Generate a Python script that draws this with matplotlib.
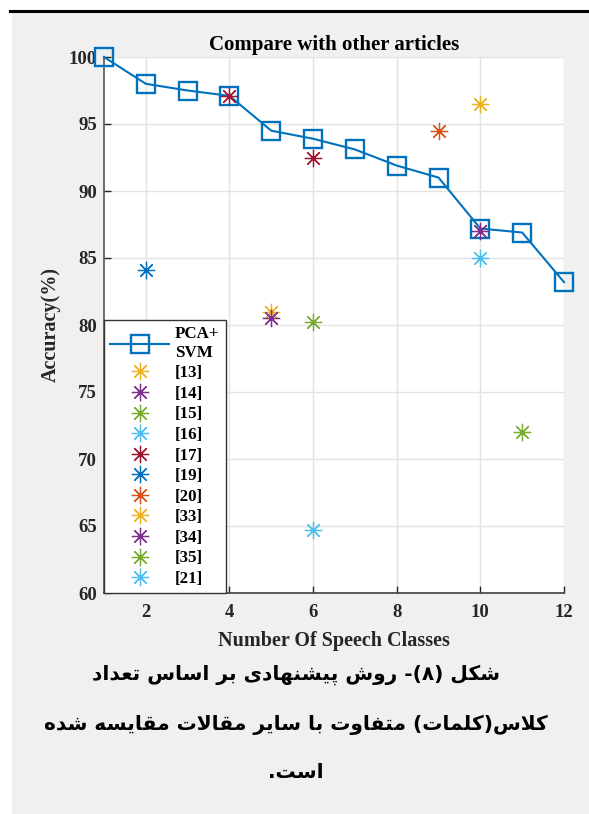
import matplotlib
matplotlib.use('Agg')
import matplotlib.pyplot as plt
from matplotlib.lines import Line2D
from matplotlib.patches import Rectangle

# ---------------- data ----------------
classes = list(range(1, 13))
pca_svm = [100, 98.0, 97.5, 97.1, 94.5, 93.9, 93.1, 91.9, 91.0, 87.2, 86.9, 83.2]

ref_labels = ['[13]', '[14]', '[15]', '[16]', '[17]', '[19]', '[20]',
              '[33]', '[34]', '[35]', '[21]']
ref_colors = ['#EDB120', '#7E2F8E', '#77AC30', '#4DBEEE', '#A2142F', '#0072BD',
              '#D95319', '#EDB120', '#7E2F8E', '#77AC30', '#4DBEEE']
ref_x = [[5], [5], [6], [6], [4, 6], [2], [9], [10], [10], [11], [10]]
ref_y = [[81.0], [80.5], [80.2], [64.7], [97.1, 92.5], [84.1], [94.5],
         [96.5], [87.0], [72.0], [85.0]]

x_ticks = [2, 4, 6, 8, 10, 12]
y_ticks = [60, 65, 70, 75, 80, 85, 90, 95, 100]

title = 'Compare with other articles'
xlabel = 'Number Of Speech Classes'
ylabel = 'Accuracy(%)'
caption_lines = ['شکل (۸)- روش پیشنهادی بر اساس تعداد',
                 'کلاس(کلمات) متفاوت با سایر مقالات مقایسه شده',
                 'است.']

# ------------- simple Arabic-script shaping + RTL ordering -------------
FORMS = {
    'ا': ('\uFE8D', '\uFE8E', None, None),
    'ب': ('\uFE8F', '\uFE90', '\uFE91', '\uFE92'),
    'ت': ('\uFE95', '\uFE96', '\uFE97', '\uFE98'),
    'د': ('\uFEA9', '\uFEAA', None, None),
    'ر': ('\uFEAD', '\uFEAE', None, None),
    'س': ('\uFEB1', '\uFEB2', '\uFEB3', '\uFEB4'),
    'ش': ('\uFEB5', '\uFEB6', '\uFEB7', '\uFEB8'),
    'ع': ('\uFEC9', '\uFECA', '\uFECB', '\uFECC'),
    'ف': ('\uFED1', '\uFED2', '\uFED3', '\uFED4'),
    'ق': ('\uFED5', '\uFED6', '\uFED7', '\uFED8'),
    'ل': ('\uFEDD', '\uFEDE', '\uFEDF', '\uFEE0'),
    'م': ('\uFEE1', '\uFEE2', '\uFEE3', '\uFEE4'),
    'ن': ('\uFEE5', '\uFEE6', '\uFEE7', '\uFEE8'),
    'ه': ('\uFEE9', '\uFEEA', '\uFEEB', '\uFEEC'),
    'و': ('\uFEED', '\uFEEE', None, None),
    'ی': ('\uFBFC', '\uFBFD', '\uFBFE', '\uFBFF'),
    'ک': ('\uFB8E', '\uFB8F', '\uFB90', '\uFB91'),
    'پ': ('\uFB56', '\uFB57', '\uFB58', '\uFB59'),
    'لا': ('\uFEFB', '\uFEFC', None, None),
}
MIRROR = {'(': ')', ')': '('}


def shape_run(run):
    toks = []
    i = 0
    while i < len(run):
        if run[i] == 'ل' and i + 1 < len(run) and run[i + 1] == 'ا':
            toks.append('لا')
            i += 2
        else:
            toks.append(run[i])
            i += 1
    out = []
    for k, t in enumerate(toks):
        f = FORMS[t]
        prev_j = k > 0 and FORMS[toks[k - 1]][2] is not None
        next_j = f[2] is not None and k + 1 < len(toks)
        if prev_j and next_j:
            g = f[3]
        elif prev_j:
            g = f[1]
        elif next_j:
            g = f[2]
        else:
            g = f[0]
        out.append(g)
    return ''.join(reversed(out))


def visual_rtl(s):
    tokens, run = [], []
    for ch in s:
        if ch in FORMS:
            run.append(ch)
        else:
            if run:
                tokens.append(shape_run(run))
                run = []
            tokens.append(MIRROR.get(ch, ch))
    if run:
        tokens.append(shape_run(run))
    return ''.join(reversed(tokens))


# ---------------- figure ----------------
W, H = 589, 814
fig = plt.figure(figsize=(W / 100, H / 100), dpi=100, facecolor='white')

fig.patches.append(Rectangle((12 / W, 0), 1 - 12 / W, (H - 12) / H,
                             transform=fig.transFigure, facecolor='#f0f0f0',
                             edgecolor='none', zorder=-10))
fig.lines.append(Line2D([10 / W, 1], [1 - 11 / H, 1 - 11 / H], transform=fig.transFigure,
                        color='black', lw=2.2, zorder=-9))

ax = fig.add_axes([104 / W, 1 - 593 / H, (564 - 104) / W, (593 - 57) / H])
ax.set_facecolor('white')

serif = 'Liberation Serif'
tick_col = '#262626'

ax.plot(classes, pca_svm, color='#0072BD', lw=1.5, marker='s', ms=13,
        mfc='none', mec='#0072BD', mew=1.7, label='PCA+\nSVM', clip_on=False, zorder=3)
for lab, col, xs, ys in zip(ref_labels, ref_colors, ref_x, ref_y):
    ax.plot(xs, ys, linestyle='none', marker=(8, 2, 0), ms=12.5, mew=0.9,
            color=col, mec=col, label=lab, clip_on=False, zorder=4)

ax.set_xlim(1, 12)
ax.set_ylim(60, 100)
ax.set_xticks(x_ticks)
ax.set_yticks(y_ticks)
ax.set_xticklabels([str(v) for v in x_ticks], fontfamily=serif, fontweight='bold',
                   fontsize=13.5, color=tick_col)
ax.set_yticklabels([str(v) for v in y_ticks], fontfamily=serif, fontweight='bold',
                   fontsize=13.5, color=tick_col)
ax.tick_params(axis='both', direction='in', length=5, width=1, color=tick_col)
ax.tick_params(axis='x', pad=8)
ax.tick_params(axis='y', pad=5)

ax.grid(True, color='#e3e3e3', lw=1)
ax.set_axisbelow(True)
for s in ['top', 'right']:
    ax.spines[s].set_visible(False)
ax.spines['left'].set_color('#555555')
ax.spines['bottom'].set_color('#404040')
ax.spines['left'].set_linewidth(1.2)
ax.spines['bottom'].set_linewidth(1.2)

ax.set_title(title, fontfamily=serif, fontweight='bold', fontsize=15, color='black', pad=5)
ax.set_xlabel(xlabel, fontfamily=serif, fontweight='bold', fontsize=14.5,
              color=tick_col, labelpad=7)
ax.set_ylabel(ylabel, fontfamily=serif, fontweight='bold', fontsize=14.5,
              color=tick_col, labelpad=6)

leg = ax.legend(loc='lower left', bbox_to_anchor=(0, 0), borderaxespad=0,
                prop={'family': serif, 'weight': 'bold', 'size': 12.2},
                handlelength=3.5, handletextpad=0.35, labelspacing=0.27,
                borderpad=0.35, fancybox=False, framealpha=1, edgecolor='#333333')
leg.get_frame().set_linewidth(1.0)
leg.set_zorder(10)
for t in leg.get_texts():
    t.set_multialignment('left')

# caption (Persian, bold)
ys = [675, 725, 773]
for line, yp in zip(caption_lines, ys):
    fig.text(296 / W, 1 - yp / H, visual_rtl(line), ha='center', va='center',
             family=['DejaVu Sans'], fontweight='bold', fontsize=14.5, color='black')

fig.savefig('out.png', dpi=100, facecolor=fig.get_facecolor())
